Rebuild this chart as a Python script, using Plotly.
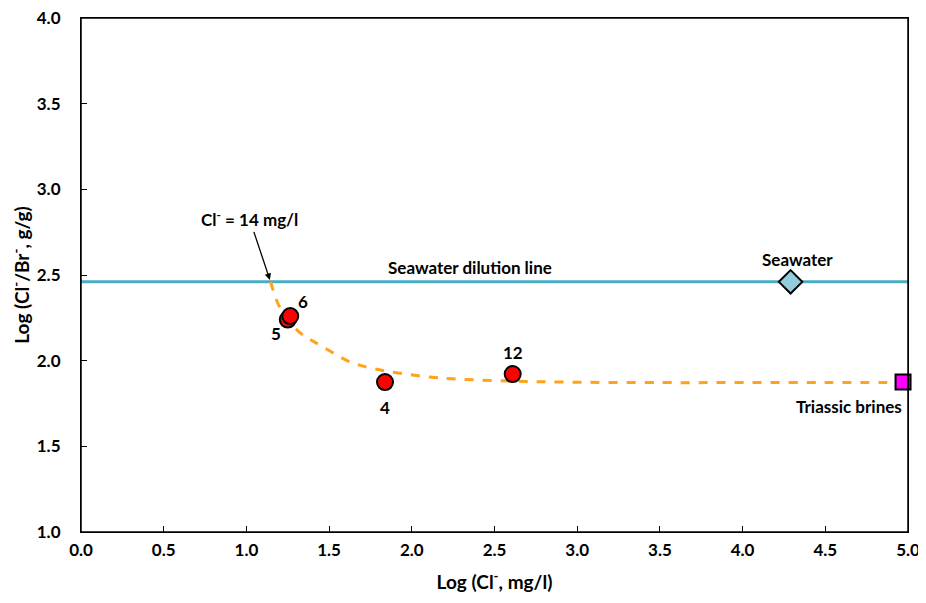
import plotly.graph_objects as go

# Samples
sample_ids = ["5", "6", "4", "12"]
sample_log_cl = [1.25, 1.265, 1.838, 2.61]
sample_log_ratio = [2.24, 2.26, 1.875, 1.922]

# End members
seawater_log_cl = [4.29]
seawater_log_ratio = [2.46]
brine_log_cl = [4.97]
brine_log_ratio = [1.875]

# Seawater dilution line
dilution_x = [0.0, 5.0]
dilution_y = [2.46, 2.46]

# Mixing curve
mix_x = [1.146, 1.193, 1.244, 1.324, 1.403, 1.505, 1.606, 1.705, 1.848, 2.11, 2.31, 2.612, 2.914, 3.52, 4.0, 4.5, 4.95]
mix_y = [2.46, 2.329, 2.25, 2.163, 2.114, 2.056, 2.002, 1.968, 1.939, 1.904, 1.891, 1.881, 1.875, 1.872, 1.872, 1.872, 1.872]

x_ticks = [0.0, 0.5, 1.0, 1.5, 2.0, 2.5, 3.0, 3.5, 4.0, 4.5, 5.0]
y_ticks = [1.0, 1.5, 2.0, 2.5, 3.0, 3.5, 4.0]

FONT = "Lato, 'Open Sans', sans-serif"
LBL = 17

fig = go.Figure()
fig.add_trace(go.Scatter(x=dilution_x, y=dilution_y, mode="lines",
                         line=dict(color="#4BACC6", width=3), hoverinfo="skip"))
fig.add_trace(go.Scatter(x=mix_x, y=mix_y, mode="lines", line_shape="spline",
                         line=dict(color="#FFA31A", width=3, dash="dash"), hoverinfo="skip"))
fig.add_trace(go.Scatter(x=sample_log_cl, y=sample_log_ratio, mode="markers",
                         marker=dict(symbol="circle", size=16, color="#FF0000",
                                     line=dict(color="black", width=2))))
fig.add_trace(go.Scatter(x=seawater_log_cl, y=seawater_log_ratio, mode="markers",
                         marker=dict(symbol="diamond", size=18, color="#92CDDC",
                                     line=dict(color="black", width=2))))
fig.add_trace(go.Scatter(x=brine_log_cl, y=brine_log_ratio, mode="markers", cliponaxis=False,
                         marker=dict(symbol="square", size=15, color="#FF00FF",
                                     line=dict(color="black", width=2))))

label_offsets = {"5": (-12, 14), "6": (13, -15), "4": (0, 25), "12": (0, -22)}
for sid, x, y in zip(sample_ids, sample_log_cl, sample_log_ratio):
    dx, dy = label_offsets[sid]
    fig.add_annotation(x=x, y=y, text="<b>%s</b>" % sid, showarrow=False,
                       xshift=dx, yshift=-dy, font=dict(size=LBL, color="black", family=FONT))

fig.add_annotation(x=seawater_log_cl[0], y=seawater_log_ratio[0], text="<b>Seawater</b>",
                   showarrow=False, xshift=7, yshift=22, font=dict(size=LBL, color="black", family=FONT))
fig.add_annotation(x=brine_log_cl[0], y=brine_log_ratio[0], text="<b>Triassic brines</b>",
                   showarrow=False, xshift=-54, yshift=-24, font=dict(size=LBL, color="black", family=FONT))
fig.add_annotation(x=2.35, y=2.46, text="<b>Seawater dilution line</b>", showarrow=False,
                   yshift=14, font=dict(size=LBL, color="black", family=FONT))
fig.add_annotation(x=mix_x[0], y=mix_y[0], text="<b>Cl<sup>-</sup> = 14 mg/l</b>",
                   showarrow=True, arrowhead=2, arrowsize=1, arrowwidth=1.3, arrowcolor="black",
                   ax=-21, ay=-63, font=dict(size=LBL, color="black", family=FONT), standoff=2)

# plot frame
fig.add_shape(type="rect", xref="paper", yref="paper", x0=0, x1=1, y0=0, y1=1,
              line=dict(color="black", width=1.5), layer="above")

axis_common = dict(showgrid=False, zeroline=False, showline=True, linecolor="black", linewidth=1.2,
                   mirror=True, ticks="inside", ticklen=6, tickcolor="black", automargin=False,
                   ticklabeloverflow="allow",
                   tickfont=dict(size=17, color="black", family=FONT))
fig.update_xaxes(range=[0, 5], tickvals=x_ticks, ticktext=["<b>%.1f</b>" % v for v in x_ticks],
                 ticklabelstandoff=2,
                 title=dict(text="<b>Log (Cl<sup>-</sup>, mg/l)</b>", font=dict(size=19, color="black", family=FONT),
                            standoff=17), **axis_common)
fig.update_yaxes(range=[1, 4], tickvals=y_ticks, ticktext=["<b>%.1f</b>" % v for v in y_ticks],
                 ticklabelstandoff=16,
                 title=dict(text="<b>Log (Cl<sup>-</sup>/Br<sup>-</sup>, g/g)</b>", font=dict(size=19, color="black", family=FONT),
                            standoff=3), **axis_common)

# page body adds ~8px offset; compensate so the plot area lands at x 81-908, y 17-531
fig.update_layout(width=918, height=595, showlegend=False, plot_bgcolor="white", paper_bgcolor="white",
                  margin=dict(l=73, r=18, t=10, b=71))
fig.write_html("out.html", config={"displayModeBar": False})
